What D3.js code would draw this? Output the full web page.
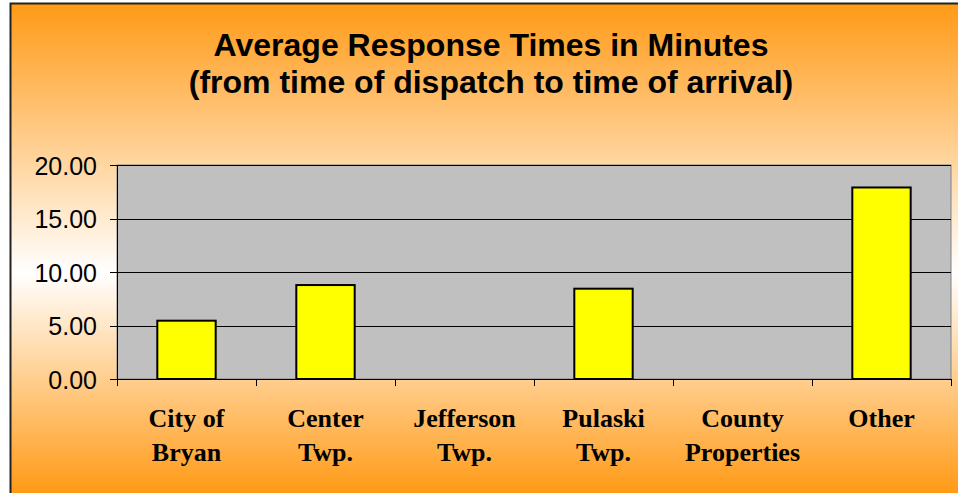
<!DOCTYPE html>
<head>
  <meta charset="utf-8">
  <style>
    body { margin: 0; background: #fff; }
    .axis text { font-family: Arial, "Liberation Sans", sans-serif; font-size: 25px; fill: #000; }
    .x.axis text { font-family: "Liberation Serif", "Times New Roman", serif; font-weight: bold; font-size: 26px; }
    .axis path, .axis line { stroke: #000; shape-rendering: crispEdges; }
  </style>
  <script src="https://cdn.jsdelivr.net/npm/d3@7/dist/d3.min.js"></script>
</head>
<body>
  <script>
    const categories = [['City of', 'Bryan'], ['Center', 'Twp.'], ['Jefferson', 'Twp.'],
                        ['Pulaski', 'Twp.'], ['County', 'Properties'], ['Other']];
    const minutes = [5.45, 8.78, 0, 8.44, 0, 17.9];
    const yTicks = [0, 5, 10, 15, 20];
    const titleLines = ['Average Response Times in Minutes', '(from time of dispatch to time of arrival)'];

    const w = 958, h = 493;
    const plot = { left: 117, right: 951, top: 165, bottom: 379 };

    const svg = d3.select('body').append('svg')
      .attr('width', w)
      .attr('height', h);

    const grad = svg.append('defs').append('linearGradient')
      .attr('id', 'bg')
      .attr('x1', 0).attr('y1', 0).attr('x2', 0).attr('y2', 1);
    grad.append('stop').attr('offset', '0').attr('stop-color', '#ff9a16');
    grad.append('stop').attr('offset', '0.55').attr('stop-color', '#ffffff');
    grad.append('stop').attr('offset', '1').attr('stop-color', '#ff9a16');

    svg.append('rect')
      .attr('x', 10).attr('y', 3)
      .attr('width', w - 10).attr('height', h - 3)
      .attr('fill', 'url(#bg)');
    // border only shows on left and top
    svg.append('path')
      .attr('d', `M10.5,${h} V3.5 H${w}`)
      .attr('fill', 'none')
      .attr('stroke', '#222')
      .attr('stroke-width', 2);

    svg.selectAll('text.title')
      .data(titleLines)
      .enter()
      .append('text')
      .attr('class', 'title')
      .attr('x', 491)
      .attr('y', (d, i) => 56 + i * 37)
      .attr('text-anchor', 'middle')
      .attr('font-family', 'Arial, "Liberation Sans", sans-serif')
      .attr('font-weight', 'bold')
      .attr('font-size', '32px')
      .text(d => d);

    const xScale = d3.scaleBand()
      .domain(d3.range(categories.length))
      .range([plot.left, plot.right])
      .paddingInner(0.58)
      .paddingOuter(0.29);

    const yScale = d3.scaleLinear()
      .domain([0, 20])
      .range([plot.bottom, plot.top]);

    svg.append('rect')
      .attr('x', plot.left).attr('y', plot.top)
      .attr('width', plot.right - plot.left)
      .attr('height', plot.bottom - plot.top)
      .attr('fill', '#c0c0c0')
      .attr('stroke', '#808080');

    svg.append('g')
      .selectAll('line')
      .data(yTicks.slice(1))
      .enter()
      .append('line')
      .attr('x1', plot.left).attr('x2', plot.right)
      .attr('y1', d => Math.round(yScale(d)) + 0.5)
      .attr('y2', d => Math.round(yScale(d)) + 0.5)
      .attr('stroke', '#000');

    svg.append('g')
      .selectAll('rect')
      .data(minutes)
      .enter()
      .append('rect')
      .attr('x', (d, i) => xScale(i))
      .attr('y', d => yScale(d))
      .attr('width', xScale.bandwidth())
      .attr('height', d => yScale(0) - yScale(d))
      .attr('fill', d => d > 0 ? '#ffff00' : 'none')
      .attr('stroke', d => d > 0 ? '#000' : 'none')
      .attr('stroke-width', 2);

    const yAxis = d3.axisLeft(yScale)
      .tickValues(yTicks)
      .tickFormat(d3.format('.2f'))
      .tickSize(7)
      .tickPadding(13);

    svg.append('g')
      .attr('class', 'y axis')
      .attr('transform', `translate(${plot.left}, 0)`)
      .call(yAxis)
      .call(g => g.select('.domain').attr('d', `M-7,${plot.top}H0V${plot.bottom}`))
      .selectAll('text').attr('dy', '0.36em');

    // category ticks at band edges
    const edgeScale = d3.scaleLinear()
      .domain([0, categories.length])
      .range([plot.left, plot.right]);

    const xg = svg.append('g').attr('class', 'x axis');
    xg.append('line')
      .attr('x1', plot.left - 7).attr('x2', plot.right)
      .attr('y1', plot.bottom + 0.5).attr('y2', plot.bottom + 0.5);
    xg.selectAll('line.tick')
      .data(d3.range(categories.length + 1))
      .enter()
      .append('line')
      .attr('class', 'tick')
      .attr('x1', d => Math.round(edgeScale(d)) + 0.5)
      .attr('x2', d => Math.round(edgeScale(d)) + 0.5)
      .attr('y1', plot.bottom).attr('y2', plot.bottom + 7)
      .attr('stroke', '#555');

    xg.selectAll('text')
      .data(categories)
      .enter()
      .append('text')
      .attr('text-anchor', 'middle')
      .attr('transform', (d, i) => `translate(${xScale(i) + xScale.bandwidth() / 2}, 427)`)
      .selectAll('tspan')
      .data(d => d)
      .enter()
      .append('tspan')
      .attr('x', 0)
      .attr('y', (d, i) => i * 34)
      .text(d => d);
  </script>
</body>
